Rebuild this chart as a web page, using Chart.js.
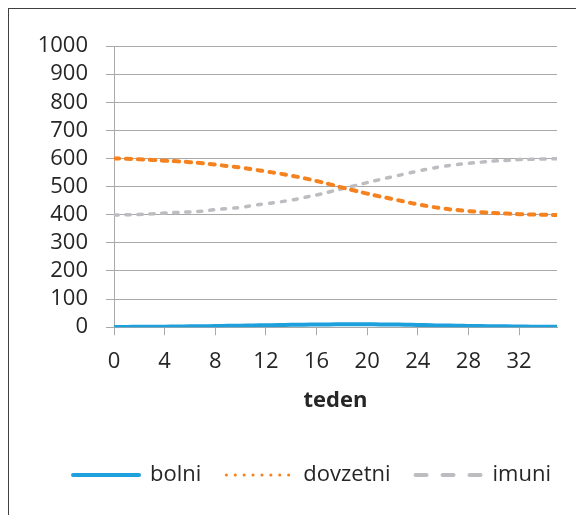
<!DOCTYPE html>
<html>
<head>
<meta charset="utf-8">
<script src="https://cdn.jsdelivr.net/npm/chart.js@4.4.1/dist/chart.umd.min.js"></script>
<style>
  html, body { margin: 0; padding: 0; background: #fff; overflow: hidden; }
  #okvir { position: absolute; left: 8px; top: 8px; width: 640px; height: 600px; border: 1px solid #404040; }
  #graf { position: absolute; left: 0; top: 0; }
</style>
</head>
<body>
<div id="okvir"><canvas id="graf" width="606" height="500"></canvas></div>
<script>
// tedni (x os)
const tedni = [0, 1, 2, 3, 4, 5, 6, 7, 8, 9, 10, 11, 12, 13, 14, 15, 16, 17,
  18, 19, 20, 21, 22, 23, 24, 25, 26, 27, 28, 29, 30, 31, 32, 33, 34, 35];

// odčitano s slike
const bolni = [1, 1, 1.5, 2, 2, 2.5, 3, 3.5, 4, 5, 5.5, 6, 7, 7.5, 8.5, 9, 9.5, 10,
  10.5, 10.5, 10.5, 10, 9.5, 9, 8, 7, 6, 5.5, 4.5, 4, 3.5, 3, 2.5, 2, 2, 1.5];
const dovzetni = [600, 599, 597, 595, 592, 590, 587, 583, 578, 573, 568, 561, 554, 547, 539, 530, 520, 509,
  497, 486, 475, 465, 456, 446, 437, 429, 422, 417, 413, 409, 406, 404, 402, 401, 400, 399];
const imuni = [399, 400, 401, 403, 406, 408, 410, 413, 418, 422, 426, 433, 439, 445, 452, 461, 470, 481,
  492, 503, 514, 525, 535, 545, 555, 564, 572, 578, 583, 587, 591, 593, 596, 597, 598, 599];

// oznake na oseh
const xOznake = [0, 4, 8, 12, 16, 20, 24, 28, 32];
const yOznake = [0, 100, 200, 300, 400, 500, 600, 700, 800, 900, 1000];

const imenaSerij = ['bolni', 'dovzetni', 'imuni'];
const naslovX = 'teden';

const barve = ['#1ea0dc', '#f5821f', '#bdbdc1'];
const siva = '#a9a9a9';
const besedilo = '#262626';

// črte v legendi so malo drugačne kot v grafu
const legendaCrte = [
  { lineWidth: 4, lineDash: [], lineCap: 'round' },
  { lineWidth: 3, lineDash: [0.1, 8.8], lineCap: 'round' },
  { lineWidth: 4, lineDash: [11, 16], lineCap: 'round' }
];

function tocke(vrednosti) {
  return vrednosti.map((v, i) => ({ x: tedni[i], y: v }));
}

Chart.defaults.font.family = "'Open Sans', sans-serif";
Chart.defaults.font.size = 22;
Chart.defaults.color = besedilo;

const ctx = document.getElementById('graf').getContext('2d');
new Chart(ctx, {
  type: 'line',
  data: {
    datasets: [
      {
        label: imenaSerij[0],
        data: tocke(bolni),
        borderColor: barve[0],
        backgroundColor: barve[0],
        borderWidth: 4,
        borderCapStyle: 'round'
      },
      {
        label: imenaSerij[1],
        data: tocke(dovzetni),
        borderColor: barve[1],
        backgroundColor: barve[1],
        borderWidth: 4,
        borderDash: [5, 7],
        borderCapStyle: 'round'
      },
      {
        label: imenaSerij[2],
        data: tocke(imuni),
        borderColor: barve[2],
        backgroundColor: barve[2],
        borderWidth: 3.5,
        borderDash: [4, 8],
        borderCapStyle: 'round'
      }
    ]
  },
  options: {
    responsive: false,
    animation: false,
    devicePixelRatio: 1,
    elements: {
      point: { radius: 0, hoverRadius: 0 },
      line: { tension: 0.4 }
    },
    layout: {
      padding: { left: 30, right: 30, top: 37, bottom: 13 }
    },
    scales: {
      x: {
        type: 'linear',
        min: 0,
        max: 35,
        afterBuildTicks(s) { s.ticks = xOznake.map(v => ({ value: v })); },
        ticks: { autoSkip: false, padding: 13, maxRotation: 0, callback: v => String(v) },
        grid: { drawOnChartArea: false, drawTicks: true, tickLength: 8, color: siva },
        border: { color: siva, width: 1 },
        title: {
          display: true,
          text: naslovX,
          font: { weight: 'bold', size: 22 },
          color: besedilo,
          padding: { top: 0, bottom: 25 }
        }
      },
      y: {
        min: 0,
        max: 1000,
        afterBuildTicks(s) { s.ticks = yOznake.map(v => ({ value: v })); },
        ticks: { autoSkip: false, padding: 18, callback: v => String(v) },
        grid: { color: siva, tickLength: 8 },
        border: { color: siva, width: 1 },
        afterFit(s) { s.width = 75; }
      },
      yDesno: {
        position: 'right',
        ticks: { display: false },
        grid: { display: false },
        border: { display: false },
        afterFit(s) { s.width = 28; }
      }
    },
    plugins: {
      tooltip: { enabled: false },
      legend: {
        position: 'bottom',
        labels: {
          usePointStyle: true,
          pointStyleWidth: 66,
          padding: 25,
          color: besedilo,
          font: { size: 22 },
          generateLabels(chart) {
            return chart.data.datasets.map((ds, i) => ({
              text: ds.label,
              strokeStyle: ds.borderColor,
              fillStyle: ds.borderColor,
              fontColor: besedilo,
              lineWidth: legendaCrte[i].lineWidth,
              lineDash: legendaCrte[i].lineDash,
              lineCap: legendaCrte[i].lineCap,
              pointStyle: 'line',
              hidden: false,
              datasetIndex: i
            }));
          }
        }
      }
    }
  }
});
</script>
</body>
</html>
